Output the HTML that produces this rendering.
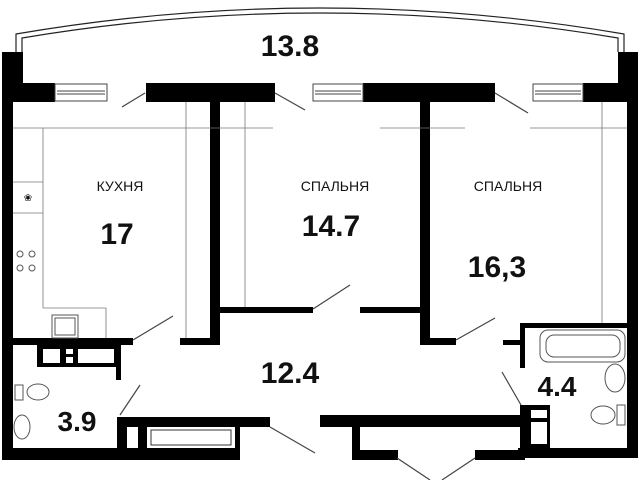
<!DOCTYPE html>
<html><head><meta charset="utf-8"><style>
html,body{margin:0;padding:0;background:#fff;width:640px;height:480px;overflow:hidden}
svg{display:block}
text{font-family:"Liberation Sans",sans-serif;fill:#111}
.b{font-weight:bold}
</style></head><body>
<svg width="640" height="480" viewBox="0 0 640 480" xmlns="http://www.w3.org/2000/svg">
<path d="M16,52 L16,34 Q320,-18 624,34 L624,52" fill="none" stroke="#222" stroke-width="1.2"/>
<path d="M22,52 L22,38 Q320,-12 618,38 L618,52" fill="none" stroke="#222" stroke-width="1.2"/>
<g fill="#000">
<rect x="2" y="52" width="21" height="31"/>
<rect x="2" y="52" width="11" height="408"/>
<rect x="2" y="83" width="53" height="19"/>
<rect x="146" y="83" width="129" height="19"/>
<rect x="363" y="83" width="132" height="19"/>
<rect x="583" y="83" width="55" height="19"/>
<rect x="618" y="52" width="20" height="50"/>
<rect x="627" y="52" width="11" height="406"/>
<rect x="210" y="102" width="10" height="243"/>
<rect x="180" y="338" width="40" height="7"/>
<rect x="420" y="102" width="10" height="243"/>
<rect x="420" y="338" width="36" height="7"/>
<rect x="220" y="307" width="93" height="6"/>
<rect x="360" y="307" width="60" height="6"/>
<rect x="13" y="338" width="120" height="7"/>
<rect x="37" y="345" width="84" height="22"/>
<rect x="116" y="345" width="5" height="35"/>
<rect x="2" y="448" width="238" height="12"/>
<rect x="117" y="417" width="153" height="10"/>
<rect x="117" y="417" width="123" height="43"/>
<rect x="320" y="415" width="200" height="12"/>
<rect x="352" y="415" width="8" height="45"/>
<rect x="352" y="450" width="46" height="10"/>
<rect x="475" y="450" width="50" height="10"/>
<rect x="518" y="448" width="120" height="10"/>
<rect x="520" y="405" width="9" height="53"/>
<rect x="520" y="323" width="118" height="5"/>
<rect x="520" y="323" width="5" height="45"/>
<rect x="503" y="340" width="20" height="5"/>
<rect x="528" y="405" width="22" height="45"/>
</g>
<g fill="#fff">
<rect x="43" y="349" width="17" height="14"/>
<rect x="66" y="349" width="7" height="5"/>
<rect x="66" y="357" width="7" height="6"/>
<rect x="78" y="349" width="36" height="14"/>
<rect x="127" y="427" width="11" height="21"/>
<rect x="147" y="427" width="88" height="21"/>
<rect x="531" y="410" width="16" height="8"/>
<rect x="531" y="422" width="16" height="22"/>
</g>
<rect x="151" y="430" width="80" height="15" fill="none" stroke="#333" stroke-width="1"/>
<g fill="none" stroke="#444" stroke-width="1">
<rect x="55" y="84" width="52" height="17"/><line x1="57" y1="91" x2="105" y2="91"/><line x1="57" y1="94" x2="105" y2="94"/>
<rect x="313" y="84" width="50" height="17"/><line x1="315" y1="91" x2="361" y2="91"/><line x1="315" y1="94" x2="361" y2="94"/>
<rect x="533" y="84" width="50" height="17"/><line x1="535" y1="91" x2="581" y2="91"/><line x1="535" y1="94" x2="581" y2="94"/>
</g>
<g stroke="#444" stroke-width="1.2" fill="none">
<line x1="145" y1="93" x2="122" y2="107"/>
<line x1="275" y1="93" x2="305" y2="110"/>
<line x1="495" y1="93" x2="528" y2="113"/>
<line x1="133" y1="340" x2="173" y2="316"/>
<line x1="313" y1="309" x2="350" y2="285"/>
<line x1="456" y1="340" x2="495" y2="318"/>
<line x1="120" y1="415" x2="140" y2="385"/>
<line x1="270" y1="427" x2="315" y2="453"/>
<line x1="521" y1="405" x2="502" y2="372"/>
<line x1="397" y1="458" x2="430" y2="480"/>
<line x1="475" y1="458" x2="442" y2="480"/>
</g>
<g stroke="#777" stroke-width="0.8" fill="none">
<line x1="13" y1="128" x2="273" y2="128"/>
<line x1="380" y1="128" x2="465" y2="128"/>
<line x1="530" y1="128" x2="627" y2="128"/>
<line x1="186" y1="102" x2="186" y2="338"/>
<line x1="245" y1="102" x2="245" y2="307"/>
<line x1="602" y1="102" x2="602" y2="323"/>
<line x1="43" y1="128" x2="43" y2="308"/><line x1="43" y1="308" x2="106" y2="308"/><line x1="106" y1="308" x2="106" y2="338"/>
<line x1="13" y1="182" x2="43" y2="182"/><line x1="13" y1="213" x2="43" y2="213"/>
</g>
<text x="28" y="201" font-size="10" text-anchor="middle">❀</text>
<g fill="none" stroke="#555" stroke-width="1">
<circle cx="20" cy="254" r="3"/><circle cx="32" cy="254" r="3"/>
<circle cx="20" cy="268" r="3"/><circle cx="32" cy="268" r="3"/>
<rect x="52" y="315" width="26" height="23"/><rect x="55" y="318" width="20" height="17"/>
<ellipse cx="38" cy="392" rx="11" ry="8"/><rect x="15" y="385" width="8" height="15"/>
<ellipse cx="22" cy="427" rx="8" ry="12"/>
<rect x="540" y="330" width="85" height="32" rx="8"/><rect x="546" y="335" width="74" height="22" rx="8"/>
<ellipse cx="615" cy="378" rx="10" ry="14"/>
<ellipse cx="603" cy="415" rx="12" ry="9"/><rect x="617" y="405" width="8" height="20"/>
</g>
<text x="290" y="56" font-size="30" class="b" text-anchor="middle">13.8</text>
<text x="120" y="191" font-size="14" text-anchor="middle">КУХНЯ</text>
<text x="117" y="244" font-size="30" class="b" text-anchor="middle">17</text>
<text x="335" y="191" font-size="14" text-anchor="middle">СПАЛЬНЯ</text>
<text x="331" y="236" font-size="30" class="b" text-anchor="middle">14.7</text>
<text x="508" y="191" font-size="14" text-anchor="middle">СПАЛЬНЯ</text>
<text x="497" y="277" font-size="30" class="b" text-anchor="middle">16,3</text>
<text x="290" y="383" font-size="30" class="b" text-anchor="middle">12.4</text>
<text x="77" y="431" font-size="28" class="b" text-anchor="middle">3.9</text>
<text x="557" y="396" font-size="28" class="b" text-anchor="middle">4.4</text>
</svg>
</body></html>
